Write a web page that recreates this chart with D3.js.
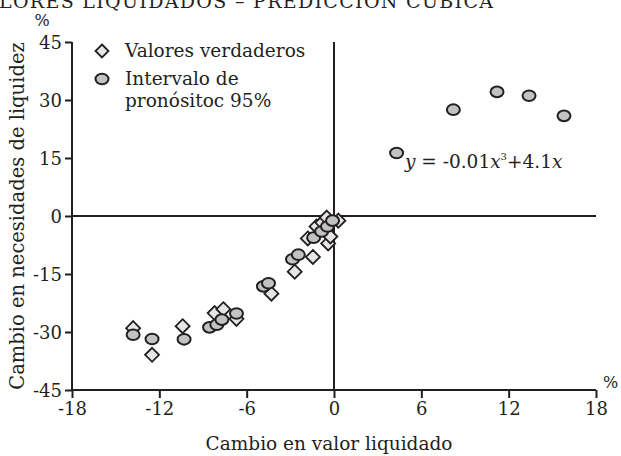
<!DOCTYPE html>
<html lang="es">
<head>
<meta charset="UTF-8">
<title>Predicción cúbica</title>
<script src="https://cdn.jsdelivr.net/npm/d3@7/dist/d3.min.js"></script>
<style>
  body { margin: 0; background: #fff; }
  svg text { font-family: "DejaVu Serif", serif; fill: #231f20; }
</style>
</head>
<body>
<script>
// valores verdaderos (diamantes)
var verdX = [-13.8, -12.5, -10.4, -8.2, -7.6, -6.7, -4.3, -2.7, -1.45, -1.8, -0.4, -0.25, -1.2, -0.8, -0.5, 0.3];
var verdY = [-29.0, -35.9, -28.5, -25.1, -24.1, -26.6, -20.1, -14.4, -10.6, -5.8, -7.1, -5.3, -2.7, -1.7, -0.4, -1.2];
// intervalo de pronóstico (círculos)
var predX = [-13.8, -12.5, -10.3, -8.55, -8.05, -7.7, -6.7, -4.85, -4.5, -2.85, -2.45, -1.4, -0.85, -0.45, -0.1, 4.3, 8.2, 11.2, 13.4, 15.8];
var predY = [-30.7, -31.8, -31.9, -28.8, -28.1, -26.8, -25.2, -18.2, -17.4, -11.2, -10.0, -5.6, -4.0, -2.7, -1.2, 16.3, 27.5, 32.1, 31.1, 25.9];

var xTicks = [-18, -12, -6, 0, 6, 12, 18];
var yTicks = [-45, -30, -15, 0, 15, 30, 45];

var width = 621, height = 456;
var svg = d3.select("body").append("svg")
  .attr("width", width)
  .attr("height", height);

var x = d3.scaleLinear().domain([-18, 18]).range([72, 596]);
var y = d3.scaleLinear().domain([-45, 45]).range([390, 42]);
var fmt = function(d) { return String(d); };   // guion normal, no signo menos

// titulo (recortado arriba)
svg.append("text")
  .attr("x", -1).attr("y", 8)
  .attr("font-size", 19)
  .attr("textLength", 494)
  .text("LORES LIQUIDADOS – PREDICCIÓN CÚBICA");

// ejes
var xAxis = d3.axisBottom(x).tickValues(xTicks).tickSize(8).tickFormat(fmt);
var gx = svg.append("g").attr("transform", "translate(0," + y(-45) + ")").call(xAxis);
var yAxis = d3.axisLeft(y).tickValues(yTicks).tickSize(7).tickFormat(fmt);
var gy = svg.append("g").attr("transform", "translate(" + x(-18) + ",0)").call(yAxis);

[gx, gy].forEach(function(g) {
  g.attr("font-family", null);
  g.select(".domain").remove();
  g.selectAll("line").attr("stroke", "#231f20").attr("stroke-width", 2);
  g.selectAll("text").attr("font-size", 18).attr("fill", "#231f20");
});
gx.selectAll("text").attr("y", 12);
gy.selectAll("text").attr("x", -10).attr("dy", "0.36em");

// lineas de los ejes y del cero
svg.append("line").attr("x1", x(-18)).attr("x2", x(18)).attr("y1", y(-45)).attr("y2", y(-45))
  .attr("stroke", "#231f20").attr("stroke-width", 2);
svg.append("line").attr("x1", x(-18)).attr("x2", x(-18)).attr("y1", y(45)).attr("y2", y(-45))
  .attr("stroke", "#231f20").attr("stroke-width", 2);
svg.append("line").attr("x1", x(-18)).attr("x2", x(18)).attr("y1", y(0)).attr("y2", y(0))
  .attr("stroke", "#231f20").attr("stroke-width", 2);
svg.append("line").attr("x1", x(0)).attr("x2", x(0)).attr("y1", y(45)).attr("y2", y(-45))
  .attr("stroke", "#231f20").attr("stroke-width", 2);

// %
svg.append("text").attr("x", 42).attr("y", 26).attr("text-anchor", "middle").attr("font-size", 16).text("%");
svg.append("text").attr("x", 603).attr("y", 388).attr("font-size", 16).text("%");

// titulos de los ejes
svg.append("text").attr("x", x(0) - 5).attr("y", 450).attr("text-anchor", "middle")
  .attr("font-size", 18.5).text("Cambio en valor liquidado");
svg.append("text")
  .attr("transform", "translate(24," + y(0) + ") rotate(-90)")
  .attr("text-anchor", "middle").attr("font-size", 19.5)
  .text("Cambio en necesidades de liquidez");

// puntos
var diamond = function(cx, cy, r) {
  return "M" + cx + "," + (cy - r) + "L" + (cx + r) + "," + cy + "L" + cx + "," + (cy + r) + "L" + (cx - r) + "," + cy + "Z";
};
svg.selectAll("path.verd")
  .data(verdX)
  .enter()
  .append("path")
  .attr("class", "verd")
  .attr("d", function(d, i) { return diamond(x(d), y(verdY[i]), 7); })
  .attr("fill", "#e6e6e6")
  .attr("stroke", "#231f20")
  .attr("stroke-width", 1.8);

svg.selectAll("ellipse.pred")
  .data(predX)
  .enter()
  .append("ellipse")
  .attr("class", "pred")
  .attr("cx", function(d) { return x(d); })
  .attr("cy", function(d, i) { return y(predY[i]); })
  .attr("rx", 6.5)
  .attr("ry", 5.3)
  .attr("fill", "#c2c2c2")
  .attr("stroke", "#231f20")
  .attr("stroke-width", 2);

// leyenda
svg.append("path").attr("d", diamond(102, 51, 6.5))
  .attr("fill", "#e6e6e6").attr("stroke", "#231f20").attr("stroke-width", 1.8);
svg.append("text").attr("x", 125).attr("y", 57).attr("font-size", 18.5).text("Valores verdaderos");
svg.append("ellipse").attr("cx", 102).attr("cy", 79).attr("rx", 6.5).attr("ry", 5.3)
  .attr("fill", "#c2c2c2").attr("stroke", "#231f20").attr("stroke-width", 2);
svg.append("text").attr("x", 125).attr("y", 85).attr("font-size", 18.5).text("Intervalo de");
svg.append("text").attr("x", 125).attr("y", 107).attr("font-size", 18.5).text("pronósitoc 95%");

// ecuacion
var eq = svg.append("text").attr("x", 405).attr("y", 168).attr("font-size", 18.5);
eq.append("tspan").attr("font-style", "italic").text("y");
eq.append("tspan").text(" = -0.01");
eq.append("tspan").attr("font-style", "italic").text("x");
eq.append("tspan").attr("font-size", 10).attr("dy", -8).text("3");
eq.append("tspan").attr("dy", 8).text("+4.1");
eq.append("tspan").attr("font-style", "italic").text("x");
</script>
</body>
</html>
